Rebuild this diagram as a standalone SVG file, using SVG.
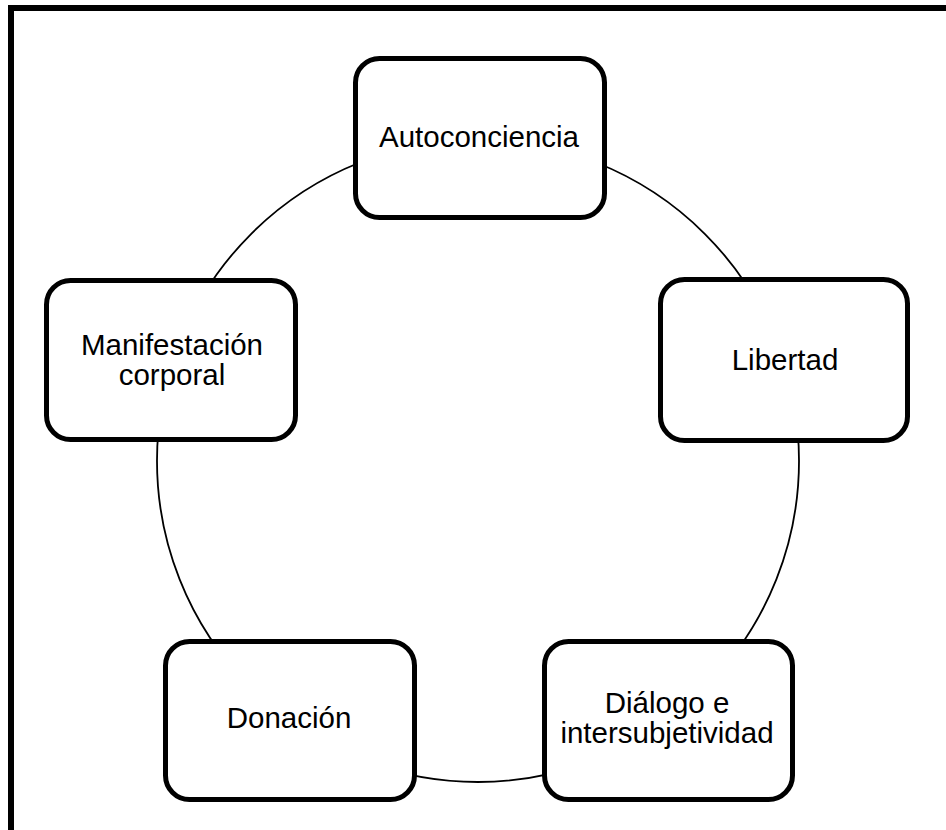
<svg xmlns="http://www.w3.org/2000/svg" width="946" height="830" viewBox="0 0 946 830">
  <style>
    .box { fill: #ffffff; stroke: #000000; stroke-width: 5; }
    .lbl { font-family: "Liberation Sans", Arial, sans-serif; font-size: 29.5px; fill: #000000; text-anchor: middle; }
    .ring { fill: none; stroke: #000000; stroke-width: 1.8; }
  </style>
  <rect x="0" y="0" width="946" height="830" fill="#ffffff"/>
  <path d="M 11 830 V 8 H 946" fill="none" stroke="#000000" stroke-width="6"/>
  <g id="connectors">
    <circle class="ring" cx="478" cy="461" r="321"/>
  </g>
  <g id="node-autoconciencia">
    <rect class="box" x="355.5" y="58.5" width="249" height="159" rx="24"/>
    <text class="lbl" x="479" y="147">Autoconciencia</text>
  </g>
  <g id="node-libertad">
    <rect class="box" x="660.5" y="279.5" width="247" height="161" rx="24"/>
    <text class="lbl" x="785" y="370">Libertad</text>
  </g>
  <g id="node-dialogo">
    <rect class="box" x="544.5" y="641.5" width="248" height="158" rx="24"/>
    <text class="lbl" x="667" y="713">Diálogo e</text>
    <text class="lbl" x="667" y="743">intersubjetividad</text>
  </g>
  <g id="node-donacion">
    <rect class="box" x="165.5" y="641.5" width="249" height="158" rx="24"/>
    <text class="lbl" x="289" y="728">Donación</text>
  </g>
  <g id="node-manifestacion">
    <rect class="box" x="46.5" y="280.5" width="249" height="159" rx="24"/>
    <text class="lbl" x="172" y="355">Manifestación</text>
    <text class="lbl" x="172" y="385">corporal</text>
  </g>
</svg>
